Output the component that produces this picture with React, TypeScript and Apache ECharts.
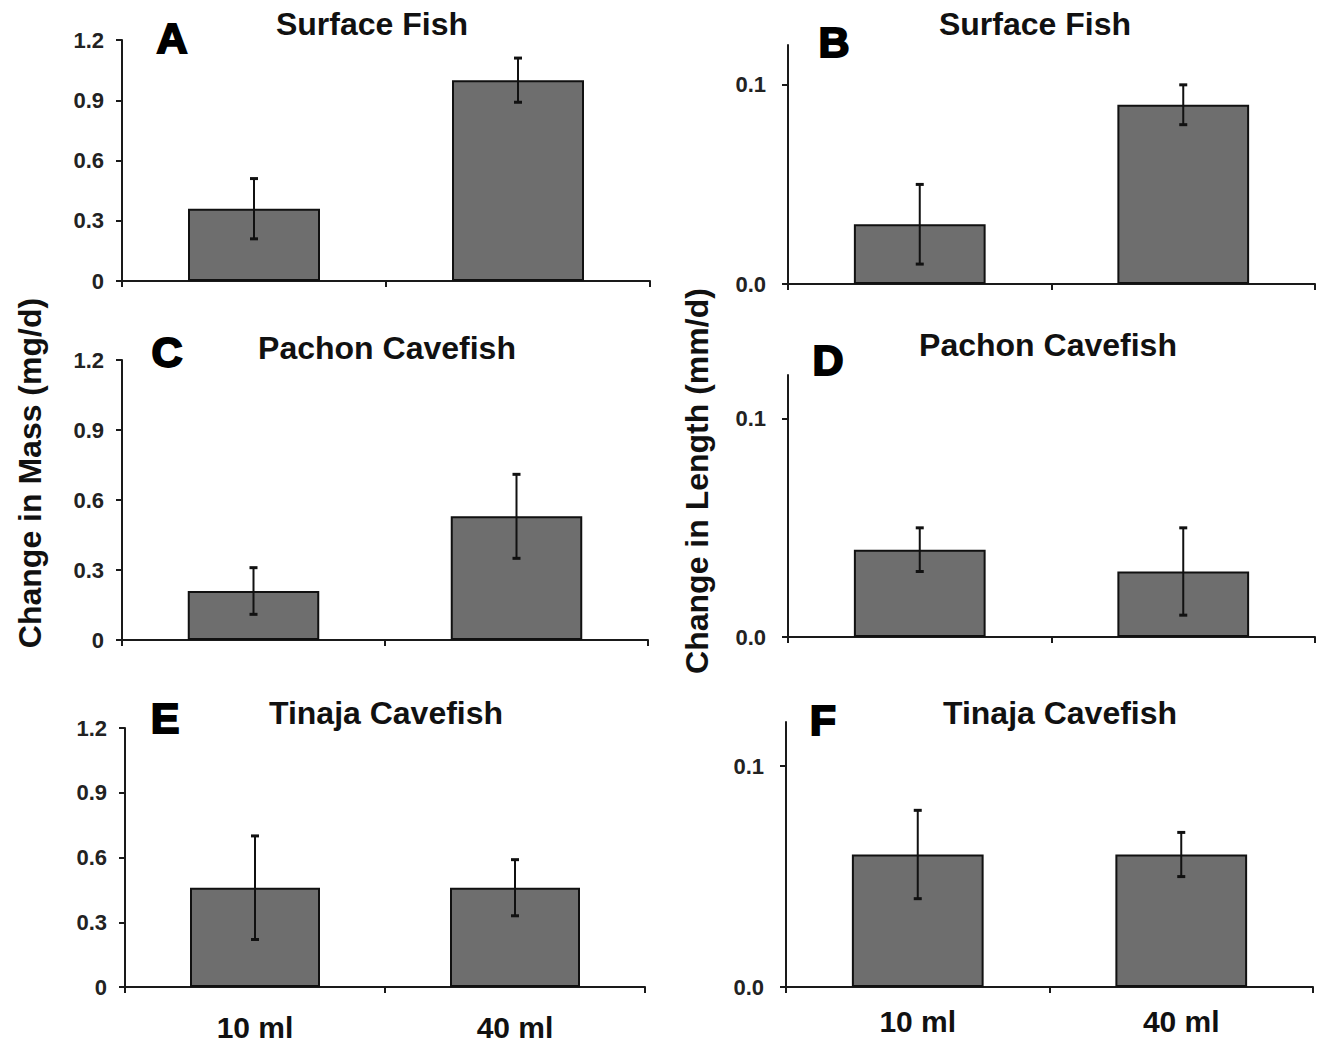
import React, { useEffect, useRef } from "react";
import * as echarts from "echarts";

const categories = ["10 ml", "40 ml"];

const surfaceMass = [0.36, 1.0];
const surfaceMassErr = [0.15, 0.11];
const pachonMass = [0.21, 0.53];
const pachonMassErr = [0.1, 0.18];
const tinajaMass = [0.46, 0.46];
const tinajaMassErr = [0.24, 0.13];

const surfaceLength = [0.03, 0.09];
const surfaceLengthErr = [0.02, 0.01];
const pachonLength = [0.04, 0.03];
const pachonLengthErr = [0.01, 0.02];
const tinajaLength = [0.06, 0.06];
const tinajaLengthErr = [0.02, 0.01];

const massTicks = [0, 0.3, 0.6, 0.9, 1.2];
const lengthTicks = [0, 0.1];

const panelLetters = ["A", "B", "C", "D", "E", "F"];
const panelTitles = [
  "Surface Fish",
  "Surface Fish",
  "Pachon Cavefish",
  "Pachon Cavefish",
  "Tinaja Cavefish",
  "Tinaja Cavefish",
];
const yNames = ["Change in Mass (mg/d)", "Change in Length (mm/d)"];

const FONT = "'Liberation Sans', Arial, Helvetica, sans-serif";

export default function App() {
  const ref = useRef<HTMLDivElement>(null);

  useEffect(() => {
    document.body.style.margin = "0";
    if (!ref.current) return;
    const chart = echarts.init(ref.current, null, { renderer: "svg" });

    const panels = [
      { vals: surfaceMass, errs: surfaceMassErr, mass: true, grid: { left: 122, top: 40, width: 528, height: 241 } },
      { vals: surfaceLength, errs: surfaceLengthErr, mass: false, grid: { left: 788, top: 45, width: 527, height: 239 } },
      { vals: pachonMass, errs: pachonMassErr, mass: true, grid: { left: 122, top: 360, width: 526, height: 280 } },
      { vals: pachonLength, errs: pachonLengthErr, mass: false, grid: { left: 788, top: 375, width: 527, height: 262 } },
      { vals: tinajaMass, errs: tinajaMassErr, mass: true, grid: { left: 125, top: 728, width: 520, height: 259 } },
      { vals: tinajaLength, errs: tinajaLengthErr, mass: false, grid: { left: 786, top: 722, width: 527, height: 265 } },
    ];

    const axisLineStyle = { color: "#1a1a1a", width: 2 };

    const grids = panels.map((p) => p.grid);
    const xAxes = panels.map((p, i) => ({
      type: "category",
      gridIndex: i,
      data: categories,
      boundaryGap: true,
      axisLine: { show: true, lineStyle: axisLineStyle },
      axisTick: { show: true, length: 6, inside: false, lineStyle: axisLineStyle },
      axisLabel: {
        show: i >= 4,
        fontFamily: FONT,
        fontWeight: "bold",
        fontSize: 30,
        lineHeight: 30,
        color: "#111",
        margin: i === 4 ? 25 : 19,
      },
      splitLine: { show: false },
    }));
    const yAxes = panels.map((p, i) => ({
      type: "value",
      gridIndex: i,
      min: 0,
      max: p.mass ? 1.2 : 0.12,
      interval: p.mass ? 0.3 : 0.1,
      axisLine: { show: true, lineStyle: axisLineStyle },
      axisTick: {
        show: true,
        length: 6,
        inside: false,
        lineStyle: axisLineStyle,
        customValues: p.mass ? massTicks : lengthTicks,
      },
      axisLabel: {
        fontFamily: FONT,
        fontWeight: "bold",
        fontSize: 22,
        color: "#222",
        margin: p.mass ? 18 : 22,
        customValues: p.mass ? massTicks : lengthTicks,
        formatter: (v: number) => (p.mass ? (v === 0 ? "0" : v.toFixed(1)) : v.toFixed(1)),
      },
      splitLine: { show: false },
    }));

    const series: any[] = [];
    panels.forEach((p, i) => {
      series.push({
        type: "bar",
        xAxisIndex: i,
        yAxisIndex: i,
        data: p.vals,
        barWidth: "50%",
        itemStyle: { color: "#6e6e6e", borderColor: "#111", borderWidth: 2 },
        z: 2,
      });
      series.push({
        type: "custom",
        xAxisIndex: i,
        yAxisIndex: i,
        z: 5,
        data: p.vals.map((v, k) => [k, v - p.errs[k], v + p.errs[k]]),
        encode: { x: 0, y: [1, 2] },
        renderItem: (params: any, api: any) => {
          const lo = api.coord([api.value(0), api.value(1)]);
          const hi = api.coord([api.value(0), api.value(2)]);
          const cap = 4;
          const style = { stroke: "#111", lineWidth: 2 };
          return {
            type: "group",
            children: [
              { type: "line", shape: { x1: lo[0], y1: lo[1], x2: hi[0], y2: hi[1] }, style },
              { type: "line", shape: { x1: lo[0] - cap, y1: lo[1], x2: lo[0] + cap, y2: lo[1] }, style: { stroke: "#111", lineWidth: 3 } },
              { type: "line", shape: { x1: hi[0] - cap, y1: hi[1], x2: hi[0] + cap, y2: hi[1] }, style: { stroke: "#111", lineWidth: 3 } },
            ],
          };
        },
      });
    });

    const titlePos = [
      [372, 24],
      [1035, 24],
      [387, 348],
      [1048, 345],
      [386, 713],
      [1060, 713],
    ];
    const letterPos = [
      [172, 38],
      [834, 42],
      [167, 352],
      [828, 360],
      [165, 718],
      [823, 720],
    ];

    const graphics: any[] = [];
    panelTitles.forEach((t, i) => {
      graphics.push({
        type: "text",
        x: titlePos[i][0],
        y: titlePos[i][1],
        style: {
          text: t,
          font: `bold 32px ${FONT}`,
          fill: "#111",
          textAlign: "center",
          textVerticalAlign: "middle",
        },
      });
    });
    panelLetters.forEach((t, i) => {
      graphics.push({
        type: "text",
        x: letterPos[i][0],
        y: letterPos[i][1],
        style: {
          text: t,
          font: `900 43px ${FONT}`,
          fill: "#000",
          stroke: "#000",
          lineWidth: 2,
          textAlign: "center",
          textVerticalAlign: "middle",
        },
      });
    });
    graphics.push({
      type: "text",
      x: 30,
      y: 473,
      rotation: Math.PI / 2,
      style: {
        text: yNames[0],
        font: `bold 32px ${FONT}`,
        fill: "#111",
        textAlign: "center",
        textVerticalAlign: "middle",
      },
    });
    graphics.push({
      type: "text",
      x: 697,
      y: 481,
      rotation: Math.PI / 2,
      style: {
        text: yNames[1],
        font: `bold 32px ${FONT}`,
        fill: "#111",
        textAlign: "center",
        textVerticalAlign: "middle",
      },
    });

    chart.setOption({
      animation: false,
      backgroundColor: "#ffffff",
      grid: grids,
      xAxis: xAxes,
      yAxis: yAxes,
      series,
      graphic: graphics,
    });

    return () => chart.dispose();
  }, []);

  return <div ref={ref} style={{ width: 1322, height: 1043 }} />;
}
